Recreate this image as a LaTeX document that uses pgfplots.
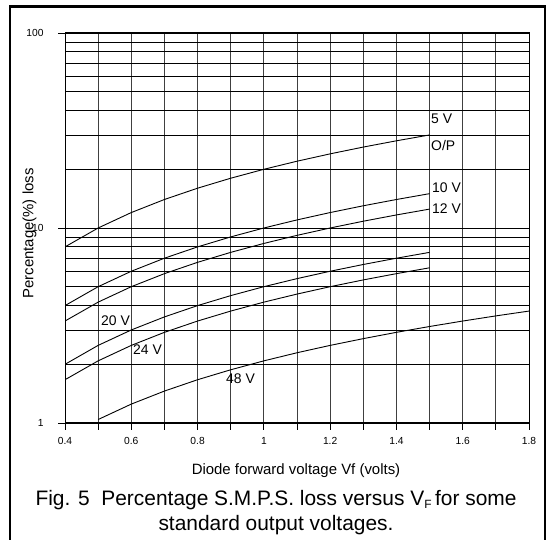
\documentclass[border=0pt]{standalone}
\usepackage{pgfplots}
\pgfplotsset{compat=1.18}
\usepackage{fontspec}
\setmainfont{Liberation Sans}

\begin{document}
\begin{tikzpicture}[x=1bp,y=1bp]
\useasboundingbox (0,0) rectangle (547,540);
\begin{axis}[
    at={(65bp,117bp)}, anchor=south west,
    width=464bp, height=390bp, scale only axis,
    ymode=log,
    xmin=0.4, xmax=1.8, ymin=1, ymax=100,
    xtick={0.4,0.5,0.6,0.7,0.8,0.9,1.0,1.1,1.2,1.3,1.4,1.5,1.6,1.7,1.8},
    xticklabels={0.4,,0.6,,0.8,,1,,1.2,,1.4,,1.6,,1.8},
    ytick={1,10,100}, yticklabels={1,10,100},
    grid=both,
    major grid style={black, line width=0.8bp},
    minor grid style={black, line width=0.8bp},
    x grid style={black!75, line width=0.8bp},
    tick align=outside, tick pos=left,
    major tick length=7bp, minor tick length=0pt,
    tick style={black, line width=0.8bp},
    axis line style={line width=1bp},
    tick label style={font=\fontsize{10.3}{12}\selectfont},
    /pgf/number format/assume math mode=true,
    yticklabel style={xshift=-11bp},
    xticklabel style={yshift=-4bp},
]
% 5 V
\addplot[black, line width=0.9bp] coordinates {
  (0.4,8) (0.5,10) (0.6,12) (0.7,14) (0.8,16) (0.9,18) (1.0,20)
  (1.1,22) (1.2,24) (1.3,26) (1.4,28) (1.5,30)};
% 10 V
\addplot[black, line width=0.9bp] coordinates {
  (0.4,4) (0.5,5) (0.6,6) (0.7,7) (0.8,8) (0.9,9) (1.0,10)
  (1.1,11) (1.2,12) (1.3,13) (1.4,14) (1.5,15)};
% 12 V
\addplot[black, line width=0.9bp] coordinates {
  (0.4,3.333) (0.5,4.167) (0.6,5) (0.7,5.833) (0.8,6.667) (0.9,7.5) (1.0,8.333)
  (1.1,9.167) (1.2,10) (1.3,10.833) (1.4,11.667) (1.5,12.5)};
% 20 V
\addplot[black, line width=0.9bp] coordinates {
  (0.4,2) (0.5,2.5) (0.6,3) (0.7,3.5) (0.8,4) (0.9,4.5) (1.0,5)
  (1.1,5.5) (1.2,6) (1.3,6.5) (1.4,7) (1.5,7.5)};
% 24 V
\addplot[black, line width=0.9bp] coordinates {
  (0.4,1.667) (0.5,2.083) (0.6,2.5) (0.7,2.917) (0.8,3.333) (0.9,3.75) (1.0,4.167)
  (1.1,4.583) (1.2,5) (1.3,5.417) (1.4,5.833) (1.5,6.25)};
% 48 V
\addplot[black, line width=0.9bp] coordinates {
  (0.5,1.042) (0.6,1.25) (0.7,1.458) (0.8,1.667) (0.9,1.875) (1.0,2.083)
  (1.1,2.292) (1.2,2.5) (1.3,2.708) (1.4,2.917) (1.5,3.125) (1.6,3.333)
  (1.7,3.542) (1.8,3.75)};
\end{axis}

% curve labels
\begin{scope}[every node/.style={anchor=base west, inner sep=0pt, font=\fontsize{14}{16}\selectfont}]
\node at (431,416) {5 V};
\node at (431,389) {O/P};
\node at (432,347) {10 V};
\node at (432,326) {12 V};
\node at (101,214.3) {20 V};
\node at (133,185.7) {24 V};
\node at (226,156.7) {48 V};
\end{scope}

% axis titles
\node[anchor=base, inner sep=0pt, font=\fontsize{15}{18}\selectfont] at (296,65) {Diode forward voltage Vf (volts)};
\node[anchor=base, inner sep=0pt, rotate=90, font=\fontsize{15}{18}\selectfont] at (33.3,306.5) {Percentage(\%) loss};

% caption
\node[anchor=base, inner sep=0pt, font=\fontsize{21}{25}\selectfont] at (276,34.5)
  {Fig. 5\ \ Percentage S.M.P.S. loss versus V\raisebox{-3bp}{\fontsize{12}{12}\selectfont F}\,for some};
\node[anchor=base, inner sep=0pt, font=\fontsize{21}{25}\selectfont] at (276,9) {standard output voltages.};

% frame
\draw[line width=2.6bp] (10,-5) -- (10,533.5) -- (545,533.5) -- (545,-5);
\end{tikzpicture}
\end{document}
